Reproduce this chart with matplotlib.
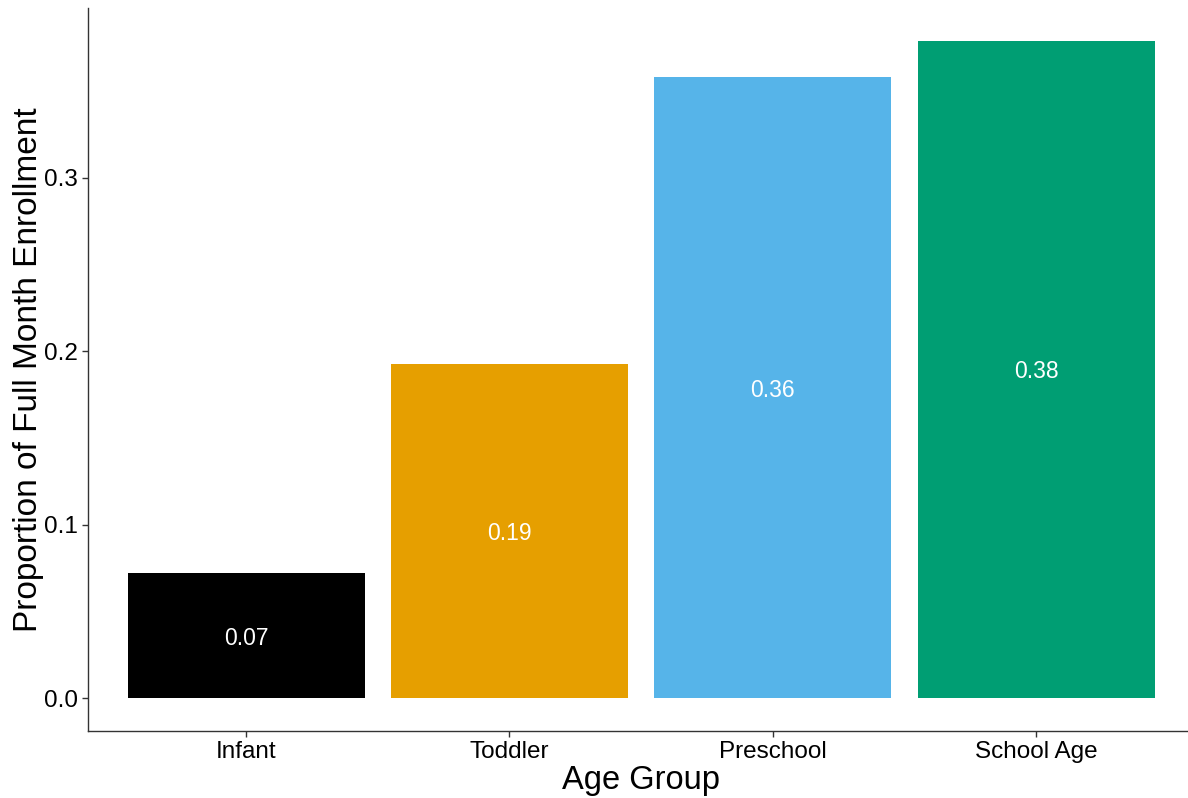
import matplotlib.pyplot as plt

groups = ["Infant", "Toddler", "Preschool", "School Age"]
proportions = [0.072, 0.1925, 0.358, 0.379]
labels = ["0.07", "0.19", "0.36", "0.38"]
colors = ["#000000", "#E69F00", "#56B4E9", "#009E73"]

plt.rcParams['font.family'] = ['Liberation Sans', 'DejaVu Sans']

W, H = 1188, 798
fig = plt.figure(figsize=(W / 100, H / 100), dpi=100)
ax = fig.add_axes([88 / W, (H - 731) / H, (1194 - 88) / W, (731 - 8) / H])

x = list(range(1, len(groups) + 1))
ax.bar(x, proportions, width=0.9, color=colors)
for xi, v, lab in zip(x, proportions, labels):
    ax.text(xi, v / 2, lab, ha='center', va='center_baseline', color='white', fontsize=16.5)

ymax = max(proportions)
ax.set_ylim(-0.05 * ymax, 1.05 * ymax)
ax.set_xlim(0.4, 4.6)
ax.set_xticks(x)
ax.set_xticklabels(groups)
ax.set_yticks([0.0, 0.1, 0.2, 0.3])
ax.set_yticklabels(["0.0", "0.1", "0.2", "0.3"])
ax.tick_params(labelsize=17.5, length=4, width=1, color='#333333', labelcolor='black', pad=3)

for side in ['top', 'right']:
    ax.spines[side].set_visible(False)
for side in ['left', 'bottom']:
    ax.spines[side].set_color('#333333')
    ax.spines[side].set_linewidth(1)

ax.set_xlabel("Age Group", fontsize=23.5, labelpad=2)
ax.set_ylabel("Proportion of Full Month Enrollment", fontsize=24, labelpad=0)

fig.savefig("out.png", dpi=100)
